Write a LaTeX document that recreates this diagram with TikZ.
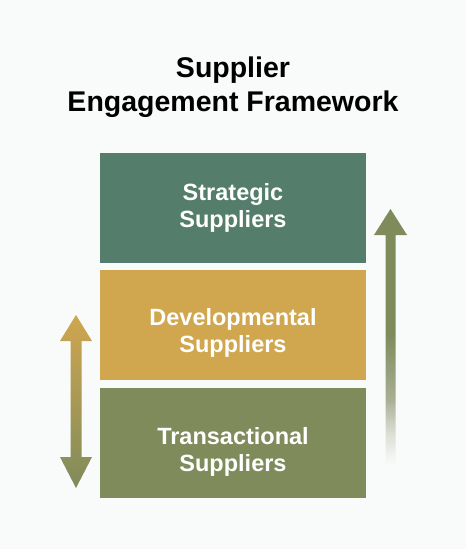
\documentclass[tikz,border=0pt]{standalone}
\usepackage{fontspec}
\setmainfont{Liberation Sans}
\usepackage{tikz}
\usetikzlibrary{shapes, arrows, positioning, calc}
\definecolor{bgcol}{HTML}{F9FBFA}
\definecolor{stratcol}{HTML}{557D6C}
\definecolor{devcol}{HTML}{D0A64F}
\definecolor{transcol}{HTML}{7F8B5B}
\definecolor{fadecol}{HTML}{A7AE93}
\pgfdeclareverticalshading{fadeup}{100bp}{color(0bp)=(bgcol); color(28bp)=(bgcol); color(34bp)=(fadecol!40!bgcol); color(40bp)=(fadecol); color(52bp)=(transcol); color(100bp)=(transcol)}
\tikzstyle{tier} = [rectangle, minimum width=266pt, minimum height=110pt, inner sep=0pt]
\tikzstyle{tiertext} = [text=white, font=\fontsize{23.5}{27}\selectfont\bfseries, align=center]
\tikzstyle{heading} = [font=\fontsize{28.5}{34}\selectfont\bfseries, align=center, text=black]

\begin{document}
\begin{tikzpicture}[x=1pt, y=-1pt, node distance=7.5pt]
    \fill[bgcol] (0,0) rectangle (466,549);
    \useasboundingbox (0,0) rectangle (466,549);

    \node (title) [heading] at (233,87) {Supplier\\Engagement Framework};

    % Tiers
    \node (strategic) [tier, fill=stratcol, label={[tiertext]center:Strategic\\Suppliers}] at (233,207.5) {};
    \node (developmental) [tier, fill=devcol, below=of strategic, label={[tiertext, yshift=-8pt]center:Developmental\\Suppliers}] {};
    \node (transactional) [tier, fill=transcol, below=of developmental, label={[tiertext, yshift=-9pt]center:Transactional\\Suppliers}] {};

    % Two-way arrow on the left
    \coordinate (lefttop) at (76,315);
    \coordinate (leftbot) at (76,488);
    \shade[top color=devcol, bottom color=transcol]
        (lefttop) -- ($(lefttop)+(16,26)$) -- ($(lefttop)+(5.5,26)$) -- ($(leftbot)+(5.5,-31)$)
        -- ($(leftbot)+(16,-31)$) -- (leftbot) -- ($(leftbot)+(-16,-31)$) -- ($(leftbot)+(-5.5,-31)$)
        -- ($(lefttop)+(-5.5,26)$) -- ($(lefttop)+(-16,26)$) -- cycle;

    % Upward arrow on the right
    \coordinate (righttop) at (390.5,209);
    \coordinate (rightbot) at (390.5,480);
    \shade[shading=fadeup]
        (righttop) -- ($(righttop)+(16.5,26)$) -- ($(righttop)+(5,26)$) -- ($(rightbot)+(5,0)$)
        -- ($(rightbot)+(-5,0)$) -- ($(righttop)+(-5,26)$) -- ($(righttop)+(-16.5,26)$) -- cycle;
\end{tikzpicture}
\end{document}
